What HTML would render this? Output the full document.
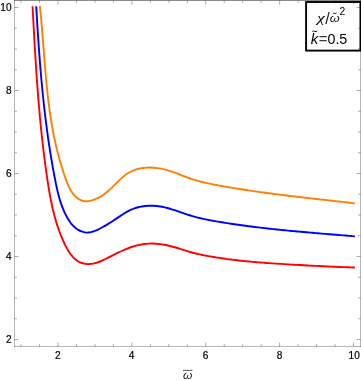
<!DOCTYPE html>
<html><head><meta charset="utf-8"><title>plot</title>
<style>
html,body{margin:0;padding:0;background:#fff;}
body{width:361px;height:381px;overflow:hidden;}
svg{display:block;will-change:transform;}
text{font-family:"Liberation Sans",sans-serif;}
</style></head><body>
<svg width="361" height="381" viewBox="0 0 361 381">
<rect x="0" y="0" width="361" height="381" fill="#fff"/>
<g fill="none" stroke-width="1.9" stroke-linecap="butt" stroke-linejoin="round">
<path stroke="#ff0000" d="M32.55 6.20 C32.59 6.85 32.69 8.81 32.76 10.12 C32.83 11.42 32.90 12.73 32.97 14.04 C33.04 15.34 33.11 16.65 33.18 17.96 C33.25 19.26 33.32 20.57 33.39 21.88 C33.46 23.18 33.53 24.49 33.60 25.80 C33.67 27.11 33.74 28.41 33.81 29.72 C33.89 31.03 33.96 32.34 34.03 33.65 C34.10 34.96 34.18 36.26 34.25 37.57 C34.33 38.88 34.40 40.19 34.48 41.50 C34.55 42.81 34.63 44.12 34.70 45.42 C34.78 46.73 34.86 48.04 34.93 49.35 C35.01 50.66 35.09 51.97 35.17 53.28 C35.25 54.59 35.33 55.90 35.41 57.21 C35.49 58.52 35.57 59.83 35.66 61.14 C35.74 62.45 35.82 63.75 35.91 65.06 C35.99 66.37 36.08 67.68 36.17 68.99 C36.25 70.30 36.34 71.61 36.43 72.92 C36.52 74.23 36.61 75.54 36.70 76.85 C36.79 78.16 36.88 79.47 36.98 80.78 C37.07 82.09 37.17 83.39 37.26 84.70 C37.36 86.01 37.46 87.32 37.55 88.63 C37.65 89.94 37.75 91.25 37.85 92.56 C37.96 93.87 38.06 95.17 38.16 96.48 C38.27 97.79 38.37 99.10 38.48 100.41 C38.59 101.71 38.70 103.02 38.81 104.33 C38.92 105.64 39.03 106.95 39.14 108.25 C39.26 109.56 39.37 110.87 39.49 112.17 C39.61 113.48 39.73 114.79 39.85 116.09 C39.97 117.40 40.09 118.71 40.21 120.01 C40.34 121.32 40.46 122.62 40.59 123.93 C40.72 125.24 40.85 126.54 40.98 127.85 C41.11 129.15 41.25 130.45 41.38 131.76 C41.52 133.06 41.66 134.37 41.80 135.67 C41.94 136.97 42.08 138.28 42.22 139.58 C42.37 140.88 42.51 142.19 42.66 143.49 C42.81 144.79 42.96 146.09 43.11 147.39 C43.26 148.70 43.42 150.00 43.58 151.30 C43.73 152.60 43.89 153.90 44.06 155.20 C44.22 156.50 44.38 157.80 44.55 159.10 C44.72 160.40 44.89 161.70 45.06 162.99 C45.23 164.29 45.40 165.59 45.58 166.89 C45.76 168.18 45.94 169.48 46.12 170.78 C46.30 172.07 46.49 173.37 46.67 174.67 C46.86 175.96 47.05 177.26 47.24 178.55 C47.44 179.85 47.63 181.14 47.83 182.43 C48.03 183.73 48.23 185.02 48.44 186.31 C48.64 187.60 48.85 188.89 49.07 190.18 C49.29 191.47 49.51 192.76 49.74 194.05 C49.97 195.33 50.20 196.62 50.44 197.90 C50.69 199.19 50.94 200.47 51.20 201.75 C51.45 203.03 51.72 204.31 52.00 205.59 C52.28 206.86 52.56 208.14 52.86 209.41 C53.16 210.68 53.47 211.95 53.79 213.22 C54.11 214.49 54.44 215.75 54.78 217.02 C55.13 218.28 55.48 219.54 55.85 220.79 C56.23 222.05 56.61 223.31 57.01 224.56 C57.41 225.81 57.83 227.05 58.26 228.30 C58.69 229.54 59.13 230.78 59.60 232.02 C60.06 233.25 60.54 234.49 61.04 235.71 C61.54 236.94 62.05 238.17 62.59 239.39 C63.13 240.61 63.68 241.83 64.26 243.04 C64.83 244.25 65.42 245.46 66.04 246.66 C66.66 247.85 67.30 249.05 67.98 250.20 C68.66 251.35 69.37 252.49 70.13 253.56 C70.89 254.63 71.69 255.67 72.55 256.63 C73.41 257.59 74.32 258.50 75.30 259.30 C76.28 260.11 77.32 260.85 78.42 261.47 C79.51 262.09 80.67 262.61 81.85 263.02 C83.04 263.42 84.29 263.70 85.54 263.88 C86.79 264.05 88.09 264.11 89.37 264.07 C90.66 264.04 91.97 263.89 93.25 263.66 C94.53 263.42 95.81 263.08 97.06 262.68 C98.32 262.27 99.55 261.77 100.78 261.25 C102.01 260.73 103.22 260.13 104.43 259.54 C105.64 258.95 106.83 258.32 108.02 257.71 C109.21 257.11 110.39 256.51 111.58 255.91 C112.76 255.32 113.94 254.75 115.12 254.16 C116.30 253.58 117.47 253.00 118.66 252.43 C119.84 251.86 121.02 251.29 122.22 250.74 C123.41 250.20 124.61 249.66 125.82 249.16 C127.03 248.66 128.25 248.18 129.48 247.74 C130.71 247.29 131.94 246.87 133.19 246.49 C134.44 246.10 135.69 245.75 136.96 245.43 C138.23 245.11 139.51 244.83 140.79 244.59 C142.08 244.34 143.38 244.14 144.67 243.98 C145.97 243.82 147.28 243.69 148.58 243.62 C149.88 243.55 151.18 243.52 152.48 243.53 C153.77 243.55 155.07 243.61 156.36 243.71 C157.65 243.81 158.94 243.95 160.23 244.12 C161.52 244.29 162.80 244.50 164.09 244.73 C165.37 244.97 166.65 245.24 167.93 245.53 C169.21 245.81 170.49 246.13 171.77 246.47 C173.04 246.80 174.32 247.16 175.59 247.53 C176.87 247.90 178.14 248.29 179.42 248.69 C180.69 249.08 181.96 249.50 183.24 249.90 C184.51 250.31 185.78 250.73 187.05 251.12 C188.33 251.51 189.60 251.89 190.87 252.25 C192.14 252.61 193.42 252.94 194.69 253.25 C195.96 253.57 197.24 253.86 198.51 254.15 C199.79 254.43 201.06 254.69 202.34 254.95 C203.62 255.21 204.89 255.46 206.17 255.70 C207.45 255.94 208.73 256.17 210.02 256.40 C211.30 256.62 212.58 256.84 213.87 257.06 C215.15 257.27 216.44 257.48 217.73 257.68 C219.01 257.88 220.30 258.07 221.59 258.26 C222.88 258.45 224.17 258.64 225.47 258.81 C226.76 258.99 228.05 259.16 229.35 259.33 C230.64 259.50 231.94 259.66 233.23 259.82 C234.53 259.97 235.82 260.13 237.12 260.27 C238.42 260.42 239.72 260.56 241.02 260.70 C242.32 260.84 243.62 260.98 244.92 261.11 C246.22 261.24 247.53 261.36 248.83 261.49 C250.13 261.61 251.44 261.73 252.74 261.84 C254.05 261.96 255.35 262.07 256.66 262.18 C257.97 262.29 259.27 262.40 260.58 262.50 C261.89 262.61 263.19 262.71 264.50 262.81 C265.81 262.90 267.12 263.00 268.43 263.09 C269.74 263.19 271.05 263.28 272.36 263.37 C273.67 263.46 274.98 263.55 276.29 263.64 C277.60 263.72 278.91 263.81 280.22 263.89 C281.54 263.98 282.85 264.06 284.16 264.14 C285.47 264.22 286.78 264.30 288.10 264.38 C289.41 264.46 290.72 264.54 292.04 264.62 C293.35 264.69 294.66 264.77 295.97 264.84 C297.29 264.92 298.60 264.99 299.91 265.06 C301.23 265.14 302.54 265.21 303.85 265.28 C305.17 265.35 306.48 265.42 307.79 265.49 C309.10 265.55 310.42 265.62 311.73 265.69 C313.04 265.75 314.35 265.82 315.67 265.88 C316.98 265.95 318.29 266.01 319.60 266.07 C320.91 266.13 322.22 266.19 323.53 266.25 C324.85 266.31 326.16 266.37 327.47 266.43 C328.78 266.49 330.09 266.55 331.39 266.60 C332.70 266.66 334.01 266.71 335.32 266.77 C336.63 266.82 337.94 266.88 339.24 266.93 C340.55 266.98 341.86 267.03 343.16 267.08 C344.47 267.14 345.77 267.19 347.08 267.23 C348.38 267.28 349.69 267.33 350.99 267.38 C352.29 267.43 354.25 267.50 354.90 267.52"/>
<path stroke="#0000ff" d="M36.22 6.20 C36.26 6.82 36.36 8.68 36.43 9.91 C36.51 11.15 36.58 12.39 36.65 13.63 C36.72 14.87 36.80 16.11 36.87 17.35 C36.94 18.59 37.02 19.83 37.09 21.06 C37.17 22.30 37.25 23.54 37.32 24.78 C37.40 26.02 37.48 27.26 37.55 28.50 C37.63 29.74 37.71 30.98 37.79 32.22 C37.87 33.46 37.95 34.70 38.04 35.94 C38.12 37.18 38.20 38.42 38.28 39.66 C38.37 40.90 38.45 42.14 38.54 43.38 C38.62 44.62 38.71 45.86 38.80 47.10 C38.89 48.33 38.98 49.57 39.07 50.81 C39.16 52.05 39.25 53.29 39.34 54.53 C39.43 55.77 39.53 57.01 39.62 58.25 C39.72 59.49 39.82 60.73 39.91 61.97 C40.01 63.21 40.11 64.45 40.21 65.69 C40.31 66.93 40.41 68.17 40.52 69.40 C40.62 70.64 40.73 71.88 40.83 73.12 C40.94 74.36 41.05 75.60 41.16 76.84 C41.26 78.08 41.38 79.31 41.49 80.55 C41.60 81.79 41.71 83.03 41.83 84.27 C41.95 85.50 42.06 86.74 42.18 87.98 C42.30 89.22 42.42 90.45 42.55 91.69 C42.67 92.93 42.79 94.16 42.92 95.40 C43.05 96.64 43.17 97.87 43.30 99.11 C43.43 100.35 43.57 101.58 43.70 102.82 C43.83 104.05 43.97 105.29 44.11 106.52 C44.25 107.76 44.39 108.99 44.53 110.23 C44.67 111.46 44.81 112.70 44.96 113.93 C45.10 115.17 45.25 116.40 45.40 117.63 C45.55 118.87 45.71 120.10 45.86 121.33 C46.02 122.56 46.17 123.80 46.33 125.03 C46.49 126.26 46.65 127.49 46.82 128.72 C46.98 129.95 47.15 131.19 47.31 132.42 C47.48 133.65 47.65 134.88 47.83 136.11 C48.00 137.34 48.18 138.57 48.35 139.79 C48.53 141.02 48.71 142.25 48.90 143.48 C49.08 144.71 49.27 145.94 49.45 147.16 C49.64 148.39 49.83 149.62 50.03 150.84 C50.22 152.07 50.42 153.30 50.62 154.52 C50.82 155.75 51.02 156.97 51.22 158.20 C51.43 159.42 51.64 160.64 51.85 161.87 C52.06 163.09 52.27 164.31 52.49 165.54 C52.70 166.76 52.92 167.98 53.14 169.20 C53.36 170.42 53.59 171.64 53.82 172.86 C54.04 174.08 54.27 175.30 54.51 176.52 C54.74 177.74 54.98 178.96 55.22 180.18 C55.46 181.39 55.70 182.61 55.95 183.83 C56.20 185.04 56.46 186.26 56.72 187.47 C56.99 188.68 57.26 189.89 57.54 191.10 C57.83 192.30 58.12 193.51 58.43 194.71 C58.75 195.91 59.07 197.10 59.41 198.29 C59.76 199.48 60.12 200.67 60.50 201.85 C60.88 203.03 61.28 204.20 61.70 205.37 C62.13 206.54 62.57 207.70 63.04 208.85 C63.52 210.01 64.01 211.16 64.54 212.29 C65.07 213.43 65.62 214.57 66.21 215.68 C66.80 216.80 67.41 217.92 68.07 219.01 C68.73 220.09 69.42 221.17 70.17 222.19 C70.91 223.21 71.70 224.21 72.55 225.13 C73.40 226.05 74.31 226.94 75.27 227.73 C76.22 228.52 77.22 229.26 78.26 229.88 C79.30 230.51 80.38 231.06 81.49 231.48 C82.59 231.90 83.73 232.22 84.88 232.40 C86.03 232.58 87.21 232.62 88.39 232.54 C89.56 232.46 90.76 232.22 91.95 231.91 C93.14 231.60 94.33 231.16 95.51 230.69 C96.69 230.21 97.88 229.64 99.03 229.07 C100.19 228.50 101.33 227.87 102.45 227.25 C103.57 226.64 104.66 226.01 105.75 225.37 C106.83 224.73 107.89 224.08 108.95 223.43 C110.01 222.77 111.05 222.11 112.08 221.44 C113.12 220.77 114.15 220.09 115.18 219.41 C116.21 218.73 117.24 218.05 118.27 217.36 C119.30 216.67 120.33 215.98 121.37 215.29 C122.42 214.61 123.46 213.91 124.53 213.26 C125.59 212.60 126.66 211.95 127.76 211.35 C128.85 210.76 129.96 210.19 131.09 209.69 C132.22 209.19 133.37 208.73 134.54 208.33 C135.70 207.92 136.89 207.57 138.08 207.26 C139.27 206.95 140.48 206.69 141.70 206.47 C142.91 206.26 144.14 206.09 145.37 205.96 C146.60 205.83 147.84 205.75 149.08 205.71 C150.32 205.67 151.57 205.68 152.81 205.72 C154.05 205.76 155.29 205.85 156.52 205.97 C157.76 206.09 158.99 206.26 160.21 206.46 C161.44 206.65 162.65 206.89 163.87 207.16 C165.08 207.42 166.28 207.72 167.48 208.04 C168.68 208.36 169.87 208.71 171.06 209.07 C172.25 209.43 173.44 209.82 174.63 210.21 C175.81 210.60 176.99 211.00 178.18 211.41 C179.36 211.82 180.54 212.23 181.72 212.64 C182.90 213.05 184.08 213.46 185.27 213.86 C186.45 214.26 187.63 214.66 188.82 215.03 C190.01 215.41 191.20 215.77 192.40 216.12 C193.59 216.47 194.79 216.80 195.99 217.11 C197.19 217.43 198.40 217.73 199.60 218.02 C200.81 218.31 202.02 218.59 203.23 218.86 C204.44 219.12 205.65 219.38 206.87 219.63 C208.08 219.87 209.30 220.11 210.52 220.34 C211.74 220.57 212.96 220.79 214.18 221.01 C215.40 221.23 216.62 221.44 217.85 221.65 C219.07 221.85 220.29 222.06 221.52 222.26 C222.74 222.46 223.97 222.65 225.19 222.85 C226.42 223.04 227.64 223.23 228.87 223.42 C230.10 223.61 231.32 223.80 232.55 223.98 C233.78 224.16 235.01 224.34 236.23 224.52 C237.46 224.69 238.69 224.87 239.92 225.04 C241.15 225.21 242.38 225.38 243.61 225.54 C244.84 225.71 246.07 225.87 247.30 226.04 C248.53 226.20 249.77 226.36 251.00 226.51 C252.23 226.67 253.46 226.82 254.69 226.97 C255.93 227.13 257.16 227.28 258.39 227.42 C259.63 227.57 260.86 227.72 262.10 227.86 C263.33 228.00 264.56 228.14 265.80 228.28 C267.03 228.42 268.27 228.56 269.50 228.70 C270.74 228.83 271.97 228.97 273.21 229.10 C274.45 229.23 275.68 229.36 276.92 229.49 C278.15 229.62 279.39 229.74 280.63 229.87 C281.86 229.99 283.10 230.12 284.34 230.24 C285.58 230.36 286.81 230.48 288.05 230.60 C289.29 230.72 290.53 230.84 291.76 230.96 C293.00 231.08 294.24 231.19 295.48 231.31 C296.72 231.42 297.95 231.53 299.19 231.65 C300.43 231.76 301.67 231.87 302.91 231.98 C304.14 232.09 305.38 232.20 306.62 232.31 C307.86 232.42 309.10 232.53 310.34 232.63 C311.58 232.74 312.81 232.85 314.05 232.95 C315.29 233.06 316.53 233.16 317.77 233.27 C319.01 233.37 320.25 233.47 321.49 233.58 C322.72 233.68 323.96 233.78 325.20 233.89 C326.44 233.99 327.68 234.09 328.92 234.19 C330.15 234.30 331.39 234.40 332.63 234.50 C333.87 234.60 335.11 234.70 336.34 234.80 C337.58 234.90 338.82 235.01 340.06 235.11 C341.29 235.21 342.53 235.31 343.77 235.41 C345.01 235.51 346.24 235.61 347.48 235.72 C348.72 235.82 349.95 235.92 351.19 236.02 C352.43 236.12 354.28 236.28 354.90 236.33"/>
<path stroke="#ff8000" d="M39.90 6.20 C39.96 6.78 40.14 8.53 40.26 9.69 C40.37 10.86 40.49 12.02 40.60 13.19 C40.71 14.36 40.82 15.52 40.93 16.69 C41.04 17.86 41.14 19.03 41.25 20.20 C41.35 21.37 41.45 22.54 41.55 23.71 C41.66 24.88 41.76 26.05 41.85 27.22 C41.95 28.39 42.05 29.56 42.15 30.73 C42.24 31.90 42.34 33.08 42.43 34.25 C42.53 35.42 42.62 36.60 42.71 37.77 C42.81 38.94 42.90 40.12 42.99 41.29 C43.08 42.46 43.17 43.64 43.26 44.81 C43.36 45.99 43.45 47.16 43.54 48.34 C43.63 49.51 43.72 50.69 43.81 51.86 C43.90 53.04 44.00 54.21 44.09 55.39 C44.18 56.56 44.27 57.74 44.37 58.91 C44.46 60.09 44.55 61.26 44.65 62.44 C44.74 63.61 44.84 64.79 44.94 65.96 C45.04 67.14 45.13 68.31 45.23 69.49 C45.33 70.66 45.43 71.84 45.54 73.01 C45.64 74.19 45.74 75.36 45.85 76.54 C45.96 77.71 46.06 78.89 46.17 80.06 C46.28 81.23 46.40 82.41 46.51 83.58 C46.63 84.75 46.74 85.92 46.86 87.10 C46.98 88.27 47.10 89.44 47.23 90.61 C47.35 91.78 47.48 92.95 47.61 94.12 C47.74 95.29 47.87 96.46 48.00 97.63 C48.14 98.80 48.28 99.97 48.42 101.14 C48.56 102.31 48.71 103.48 48.86 104.64 C49.01 105.81 49.16 106.98 49.32 108.14 C49.47 109.31 49.63 110.47 49.80 111.64 C49.96 112.80 50.13 113.96 50.30 115.13 C50.48 116.29 50.65 117.45 50.83 118.61 C51.01 119.77 51.20 120.93 51.39 122.09 C51.58 123.25 51.78 124.41 51.98 125.57 C52.18 126.72 52.38 127.88 52.59 129.03 C52.80 130.19 53.02 131.34 53.24 132.50 C53.46 133.65 53.68 134.80 53.91 135.95 C54.14 137.10 54.38 138.25 54.62 139.40 C54.87 140.55 55.11 141.70 55.37 142.85 C55.62 143.99 55.88 145.14 56.15 146.28 C56.42 147.42 56.69 148.57 56.97 149.71 C57.25 150.85 57.53 151.99 57.82 153.13 C58.12 154.27 58.41 155.40 58.72 156.54 C59.03 157.68 59.34 158.81 59.66 159.94 C59.98 161.08 60.30 162.21 60.64 163.34 C60.97 164.47 61.31 165.60 61.66 166.72 C62.01 167.85 62.37 168.97 62.73 170.10 C63.09 171.22 63.46 172.34 63.84 173.46 C64.22 174.58 64.61 175.70 65.01 176.82 C65.40 177.94 65.80 179.05 66.22 180.17 C66.63 181.28 67.05 182.39 67.50 183.49 C67.94 184.59 68.40 185.68 68.90 186.74 C69.40 187.81 69.93 188.86 70.51 189.87 C71.09 190.88 71.70 191.87 72.39 192.82 C73.07 193.76 73.81 194.68 74.61 195.53 C75.42 196.38 76.31 197.22 77.24 197.93 C78.17 198.65 79.18 199.32 80.21 199.82 C81.25 200.33 82.34 200.72 83.44 200.96 C84.55 201.20 85.69 201.27 86.83 201.24 C87.98 201.22 89.15 201.05 90.30 200.81 C91.45 200.57 92.61 200.21 93.74 199.82 C94.87 199.42 96.00 198.94 97.08 198.43 C98.16 197.93 99.21 197.38 100.24 196.80 C101.26 196.22 102.25 195.60 103.22 194.94 C104.19 194.29 105.13 193.59 106.05 192.86 C106.97 192.13 107.87 191.36 108.76 190.58 C109.64 189.79 110.51 188.97 111.37 188.15 C112.24 187.32 113.09 186.47 113.94 185.63 C114.79 184.79 115.63 183.93 116.48 183.09 C117.32 182.24 118.17 181.40 119.03 180.58 C119.89 179.75 120.75 178.94 121.63 178.15 C122.50 177.37 123.39 176.61 124.30 175.88 C125.21 175.16 126.14 174.47 127.09 173.82 C128.05 173.18 129.02 172.58 130.03 172.03 C131.04 171.49 132.08 171.00 133.14 170.56 C134.20 170.12 135.29 169.73 136.40 169.40 C137.51 169.06 138.64 168.77 139.79 168.53 C140.93 168.29 142.10 168.10 143.27 167.95 C144.44 167.80 145.63 167.69 146.81 167.63 C148.00 167.56 149.20 167.54 150.40 167.56 C151.59 167.57 152.79 167.63 153.99 167.72 C155.18 167.81 156.37 167.94 157.55 168.09 C158.73 168.25 159.91 168.45 161.07 168.67 C162.23 168.90 163.38 169.15 164.52 169.43 C165.66 169.71 166.79 170.02 167.91 170.35 C169.04 170.67 170.15 171.03 171.26 171.39 C172.37 171.76 173.48 172.14 174.58 172.54 C175.68 172.93 176.77 173.35 177.87 173.76 C178.97 174.18 180.06 174.61 181.15 175.04 C182.25 175.47 183.34 175.90 184.43 176.33 C185.53 176.75 186.63 177.18 187.73 177.59 C188.83 178.00 189.94 178.40 191.05 178.78 C192.16 179.16 193.28 179.52 194.40 179.86 C195.52 180.21 196.65 180.54 197.78 180.85 C198.91 181.17 200.05 181.47 201.18 181.76 C202.32 182.05 203.46 182.33 204.61 182.59 C205.75 182.86 206.90 183.12 208.05 183.36 C209.20 183.61 210.35 183.85 211.51 184.08 C212.66 184.32 213.82 184.54 214.97 184.76 C216.13 184.98 217.29 185.20 218.45 185.41 C219.60 185.62 220.76 185.83 221.92 186.04 C223.08 186.24 224.24 186.45 225.40 186.65 C226.56 186.85 227.72 187.05 228.88 187.25 C230.04 187.45 231.20 187.64 232.37 187.83 C233.53 188.03 234.69 188.22 235.85 188.41 C237.01 188.59 238.17 188.78 239.34 188.97 C240.50 189.15 241.66 189.33 242.82 189.51 C243.99 189.69 245.15 189.87 246.31 190.05 C247.48 190.22 248.64 190.40 249.80 190.57 C250.97 190.74 252.13 190.91 253.30 191.08 C254.46 191.25 255.62 191.42 256.79 191.59 C257.95 191.75 259.12 191.92 260.28 192.08 C261.45 192.24 262.61 192.40 263.78 192.56 C264.94 192.72 266.11 192.88 267.28 193.03 C268.44 193.19 269.61 193.35 270.77 193.50 C271.94 193.65 273.11 193.81 274.27 193.96 C275.44 194.11 276.61 194.26 277.77 194.41 C278.94 194.56 280.11 194.70 281.27 194.85 C282.44 195.00 283.61 195.14 284.77 195.28 C285.94 195.43 287.11 195.57 288.28 195.71 C289.45 195.86 290.61 196.00 291.78 196.14 C292.95 196.28 294.12 196.42 295.28 196.56 C296.45 196.70 297.62 196.83 298.79 196.97 C299.96 197.11 301.13 197.24 302.29 197.38 C303.46 197.52 304.63 197.65 305.80 197.79 C306.97 197.92 308.14 198.06 309.31 198.19 C310.48 198.32 311.64 198.46 312.81 198.59 C313.98 198.72 315.15 198.85 316.32 198.99 C317.49 199.12 318.66 199.25 319.83 199.38 C321.00 199.51 322.17 199.64 323.33 199.77 C324.50 199.91 325.67 200.04 326.84 200.17 C328.01 200.30 329.18 200.43 330.35 200.56 C331.52 200.69 332.69 200.82 333.86 200.95 C335.03 201.08 336.20 201.21 337.36 201.34 C338.53 201.48 339.70 201.61 340.87 201.74 C342.04 201.87 343.21 202.00 344.38 202.13 C345.55 202.27 346.72 202.40 347.89 202.53 C349.06 202.66 350.22 202.80 351.39 202.93 C352.56 203.06 354.32 203.26 354.90 203.33"/>
</g>
<rect x="306.1" y="2.0" width="54.35" height="48.6" fill="#fff" stroke="#000" stroke-width="1.9"/>
<g fill="#000" font-size="14px">
<g transform="translate(317.1,21.7) scale(1.31,1)"><text x="0" y="0" font-style="italic" font-size="13.5px" style="font-family:'Liberation Serif',serif">&#967;</text></g>
<text x="325.3" y="23.9" fill="#222" font-size="16.2px">/</text>
<g transform="translate(329.7,22.0) scale(1.1,1)"><text x="0" y="0" font-style="italic" font-size="11.6px" fill="#1a1a1a">&#969;</text></g>
<text x="339.5" y="14.9" font-size="10.3px">2</text>
<path d="M332.9 13.7 q0.9 -1.0 1.8 -0.35 q0.9 0.65 1.8 -0.35" fill="none" stroke="#000" stroke-width="1"/>
<g font-size="15px"><text x="310.7" y="43.6" font-style="italic">k</text><text x="318.7" y="44.2" fill="#3a3a3a">=</text><g transform="translate(327.5,43.7) scale(0.95,1)"><text x="0" y="0">0.5</text></g></g>
<path d="M312.4 31.7 q1.2 -1.1 2.4 -0.4 q1.2 0.7 2.4 -0.4" fill="none" stroke="#000" stroke-width="1"/>
</g>
<g stroke="#000" stroke-opacity="0.29" stroke-width="1" fill="none">
<!--#858585-->
<line x1="14.5" y1="0" x2="14.5" y2="347"/>
<line x1="14" y1="346.45" x2="361" y2="346.45"/>
<line x1="360.5" y1="0" x2="360.5" y2="347"/>
<line x1="14" y1="0.5" x2="361" y2="0.5" stroke-opacity="0.45"/>
</g>
<g stroke="rgba(0,0,0,0.33)" stroke-width="1" fill="none">
<line x1="21.06" y1="346.50" x2="21.06" y2="344.10"/>
<line x1="21.06" y1="0.50" x2="21.06" y2="2.90"/>
<line x1="39.53" y1="346.50" x2="39.53" y2="344.10"/>
<line x1="39.53" y1="0.50" x2="39.53" y2="2.90"/>
<line x1="58.00" y1="346.50" x2="58.00" y2="342.50"/>
<line x1="58.00" y1="0.50" x2="58.00" y2="4.50"/>
<line x1="76.47" y1="346.50" x2="76.47" y2="344.10"/>
<line x1="76.47" y1="0.50" x2="76.47" y2="2.90"/>
<line x1="94.94" y1="346.50" x2="94.94" y2="344.10"/>
<line x1="94.94" y1="0.50" x2="94.94" y2="2.90"/>
<line x1="113.41" y1="346.50" x2="113.41" y2="344.10"/>
<line x1="113.41" y1="0.50" x2="113.41" y2="2.90"/>
<line x1="131.88" y1="346.50" x2="131.88" y2="342.50"/>
<line x1="131.88" y1="0.50" x2="131.88" y2="4.50"/>
<line x1="150.35" y1="346.50" x2="150.35" y2="344.10"/>
<line x1="150.35" y1="0.50" x2="150.35" y2="2.90"/>
<line x1="168.82" y1="346.50" x2="168.82" y2="344.10"/>
<line x1="168.82" y1="0.50" x2="168.82" y2="2.90"/>
<line x1="187.29" y1="346.50" x2="187.29" y2="344.10"/>
<line x1="187.29" y1="0.50" x2="187.29" y2="2.90"/>
<line x1="205.76" y1="346.50" x2="205.76" y2="342.50"/>
<line x1="205.76" y1="0.50" x2="205.76" y2="4.50"/>
<line x1="224.23" y1="346.50" x2="224.23" y2="344.10"/>
<line x1="224.23" y1="0.50" x2="224.23" y2="2.90"/>
<line x1="242.70" y1="346.50" x2="242.70" y2="344.10"/>
<line x1="242.70" y1="0.50" x2="242.70" y2="2.90"/>
<line x1="261.17" y1="346.50" x2="261.17" y2="344.10"/>
<line x1="261.17" y1="0.50" x2="261.17" y2="2.90"/>
<line x1="279.64" y1="346.50" x2="279.64" y2="342.50"/>
<line x1="279.64" y1="0.50" x2="279.64" y2="4.50"/>
<line x1="298.11" y1="346.50" x2="298.11" y2="344.10"/>
<line x1="298.11" y1="0.50" x2="298.11" y2="2.90"/>
<line x1="316.58" y1="346.50" x2="316.58" y2="344.10"/>
<line x1="316.58" y1="0.50" x2="316.58" y2="2.90"/>
<line x1="335.05" y1="346.50" x2="335.05" y2="344.10"/>
<line x1="335.05" y1="0.50" x2="335.05" y2="2.90"/>
<line x1="353.52" y1="346.50" x2="353.52" y2="342.50"/>
<line x1="353.52" y1="0.50" x2="353.52" y2="4.50"/>
<line x1="14.50" y1="339.50" x2="18.50" y2="339.50"/>
<line x1="360.50" y1="339.50" x2="356.50" y2="339.50"/>
<line x1="14.50" y1="318.75" x2="16.90" y2="318.75"/>
<line x1="360.50" y1="318.75" x2="358.10" y2="318.75"/>
<line x1="14.50" y1="298.00" x2="16.90" y2="298.00"/>
<line x1="360.50" y1="298.00" x2="358.10" y2="298.00"/>
<line x1="14.50" y1="277.25" x2="16.90" y2="277.25"/>
<line x1="360.50" y1="277.25" x2="358.10" y2="277.25"/>
<line x1="14.50" y1="256.50" x2="18.50" y2="256.50"/>
<line x1="360.50" y1="256.50" x2="356.50" y2="256.50"/>
<line x1="14.50" y1="235.75" x2="16.90" y2="235.75"/>
<line x1="360.50" y1="235.75" x2="358.10" y2="235.75"/>
<line x1="14.50" y1="215.00" x2="16.90" y2="215.00"/>
<line x1="360.50" y1="215.00" x2="358.10" y2="215.00"/>
<line x1="14.50" y1="194.25" x2="16.90" y2="194.25"/>
<line x1="360.50" y1="194.25" x2="358.10" y2="194.25"/>
<line x1="14.50" y1="173.50" x2="18.50" y2="173.50"/>
<line x1="360.50" y1="173.50" x2="356.50" y2="173.50"/>
<line x1="14.50" y1="152.75" x2="16.90" y2="152.75"/>
<line x1="360.50" y1="152.75" x2="358.10" y2="152.75"/>
<line x1="14.50" y1="132.00" x2="16.90" y2="132.00"/>
<line x1="360.50" y1="132.00" x2="358.10" y2="132.00"/>
<line x1="14.50" y1="111.25" x2="16.90" y2="111.25"/>
<line x1="360.50" y1="111.25" x2="358.10" y2="111.25"/>
<line x1="14.50" y1="90.50" x2="18.50" y2="90.50"/>
<line x1="360.50" y1="90.50" x2="356.50" y2="90.50"/>
<line x1="14.50" y1="69.75" x2="16.90" y2="69.75"/>
<line x1="360.50" y1="69.75" x2="358.10" y2="69.75"/>
<line x1="14.50" y1="49.00" x2="16.90" y2="49.00"/>
<line x1="360.50" y1="49.00" x2="358.10" y2="49.00"/>
<line x1="14.50" y1="28.25" x2="16.90" y2="28.25"/>
<line x1="360.50" y1="28.25" x2="358.10" y2="28.25"/>
<line x1="14.50" y1="7.50" x2="18.50" y2="7.50"/>
<line x1="360.50" y1="7.50" x2="356.50" y2="7.50"/>
</g>
<g font-size="10.1px" fill="#000" stroke="#000" stroke-width="0.2">
<text x="57.80" y="359" text-anchor="middle">2</text>
<text x="131.68" y="359" text-anchor="middle">4</text>
<text x="205.56" y="359" text-anchor="middle">6</text>
<text x="279.44" y="359" text-anchor="middle">8</text>
<text x="354.22" y="359" text-anchor="middle">10</text>
<text x="11.6" y="343.20" text-anchor="end">2</text>
<text x="11.6" y="260.20" text-anchor="end">4</text>
<text x="11.6" y="177.20" text-anchor="end">6</text>
<text x="11.6" y="94.20" text-anchor="end">8</text>
<text x="11.6" y="11.20" text-anchor="end">10</text>
</g>
<g fill="#222">
<g transform="translate(183.0,378.7) scale(1.05,1)"><text x="0" y="0" font-size="11.4px" font-style="italic">&#969;</text></g>
<rect x="183" y="369.9" width="9.5" height="0.8" fill="#333"/>
</g>
</svg>
</body></html>
